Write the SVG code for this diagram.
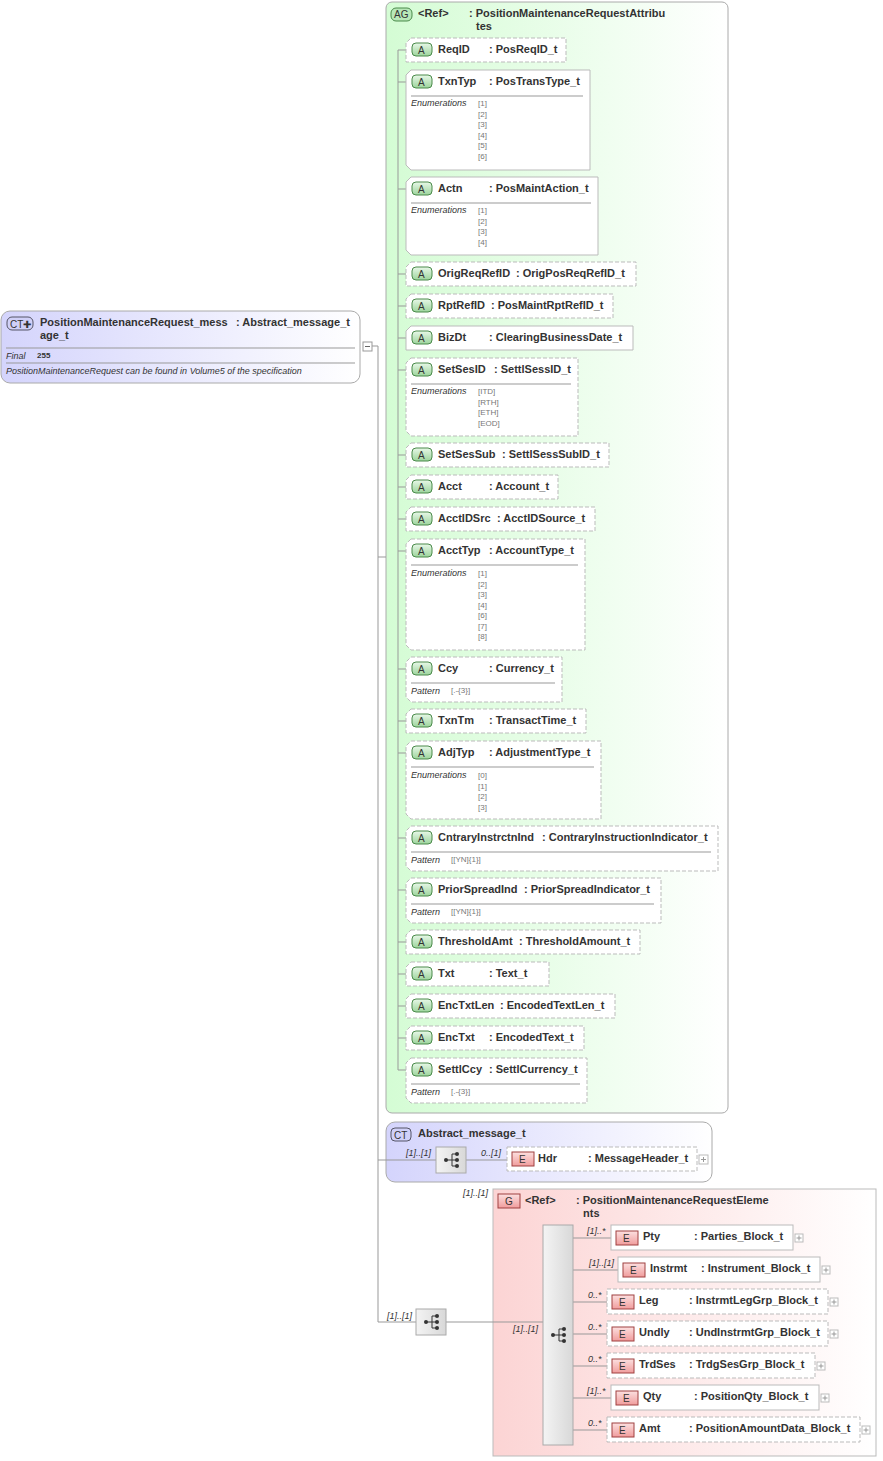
<svg xmlns="http://www.w3.org/2000/svg" width="883" height="1461" viewBox="0 0 883 1461">
<defs>
<linearGradient id="gg" x1="0" x2="1"><stop offset="0" stop-color="#d4fcd4"/><stop offset="1" stop-color="#ffffff"/></linearGradient>
<linearGradient id="pg" x1="0" x2="1"><stop offset="0" stop-color="#fcd4d4"/><stop offset="1" stop-color="#ffffff"/></linearGradient>
<linearGradient id="bg" x1="0" x2="1"><stop offset="0" stop-color="#d4d4fc"/><stop offset="1" stop-color="#ffffff"/></linearGradient>
<linearGradient id="sq" x1="0" x2="1"><stop offset="0" stop-color="#f4f4f4"/><stop offset="1" stop-color="#d8d8d8"/></linearGradient>
<linearGradient id="ab" x1="0" x2="0" y1="0" y2="1"><stop offset="0" stop-color="#e8f8e8"/><stop offset="1" stop-color="#9cd49c"/></linearGradient>
<linearGradient id="eb" x1="0" x2="0" y1="0" y2="1"><stop offset="0" stop-color="#fce0e0"/><stop offset="1" stop-color="#f09c9c"/></linearGradient>
<g id="seqi"><line x1="-6" y1="0" x2="0" y2="0" stroke="#333"/><line x1="0" y1="-6" x2="0" y2="6" stroke="#333"/><line x1="0" y1="-6" x2="5" y2="-6" stroke="#333"/><line x1="0" y1="0" x2="5" y2="0" stroke="#333"/><line x1="0" y1="6" x2="5" y2="6" stroke="#333"/><circle cx="-6" cy="0" r="2" fill="#333"/><circle cx="5" cy="-6" r="2" fill="#333"/><circle cx="5" cy="0" r="2" fill="#333"/><circle cx="5" cy="6" r="2" fill="#333"/></g>
</defs>
<style>
text{font-family:"Liberation Sans",Arial,sans-serif;fill:#333}
.b{font-size:11px;font-weight:bold}
.s{font-size:9px;font-style:italic}
.e{font-size:8px;fill:#777}
.n{fill:#fff;stroke:#bbb}
.d{fill:#fff;stroke:#bbb;stroke-dasharray:4,2}
.c{fill:none;stroke:#999}
.ab{fill:url(#ab);stroke:#4a8a4a}
.eb{fill:url(#eb);stroke:#a04040}
.sep{stroke:#999}
</style>
<g id="ct-main">
<rect x="1" y="311" width="359" height="72" rx="9" fill="url(#bg)" stroke="#aaa"/>
<rect x="7" y="317" width="26" height="13" rx="5" fill="#d0d0f8" stroke="#556"/>
<text x="10" y="328" font-size="10">CT✚</text>
<text x="40" y="326" class="b">PositionMaintenanceRequest_mess</text><text x="236" y="326" class="b">: Abstract_message_t</text>
<text x="40" y="339" class="b">age_t</text>
<line x1="6" y1="348" x2="355" y2="348" class="sep"/>
<text x="6" y="359" class="s">Final</text><text x="37" y="358" font-size="8" font-weight="bold">255</text>
<line x1="6" y1="363" x2="355" y2="363" class="sep"/>
<text x="6" y="374" class="s">PositionMaintenanceRequest can be found in Volume5 of the specification</text>
<rect x="363" y="342" width="9" height="9" fill="#fff" stroke="#999"/><line x1="365" y1="346.5" x2="370" y2="346.5" stroke="#666"/>
</g>
<g id="ag">
<rect x="386" y="2" width="342" height="1111" rx="6" fill="url(#gg)" stroke="#aaa"/>
<rect x="391" y="8" width="21" height="13" rx="5" fill="#b8e8b8" stroke="#4a8a4a"/>
<text x="394" y="18" font-size="10">AG</text>
<text x="418" y="17" class="b">&lt;Ref&gt;</text><text x="469" y="17" class="b">: PositionMaintenanceRequestAttribu</text>
<text x="476" y="30" class="b">tes</text>
</g>
<g id="ct-abstract">
<rect x="386" y="1122" width="326" height="60" rx="9" fill="url(#bg)" stroke="#aaa"/>
<rect x="391" y="1128" width="20" height="13" rx="4" fill="#d0d0f8" stroke="#556"/>
<text x="394" y="1139" font-size="10">CT</text>
<text x="418" y="1137" class="b">Abstract_message_t</text>
<text x="406" y="1156" class="s">[1]..[1]</text>
<text x="481" y="1156" class="s">0..[1]</text>
</g>
<g id="g-elements">
<text x="463" y="1196" class="s">[1]..[1]</text>
<rect x="493" y="1189" width="383" height="267" fill="url(#pg)" stroke="#bbb"/>
<rect x="498" y="1194" width="22" height="14" class="eb"/><text x="505" y="1205" font-size="10">G</text>
<text x="525" y="1204" class="b">&lt;Ref&gt;</text><text x="576" y="1204" class="b">: PositionMaintenanceRequestEleme</text>
<text x="583" y="1217" class="b">nts</text>
<text x="513" y="1332" class="s">[1]..[1]</text>
</g>
<g id="connectors" class="c">
<path d="M372,346 H378 V1322 M378,557 H386 M378,1160 H386 M378,1322 H416 M446,1322 H543 M386,1160 H436 M466,1160 H507"/>
<path d="M398,50 V1070"/>
<path d="M398,50 H406 M398,82 H406 M398,189 H406 M398,274 H406 M398,306 H406 M398,338 H406 M398,370 H406 M398,455 H406 M398,487 H406 M398,519 H406 M398,551 H406 M398,669 H406 M398,721 H406 M398,753 H406 M398,838 H406 M398,890 H406 M398,942 H406 M398,974 H406 M398,1006 H406 M398,1038 H406 M398,1070 H406"/>
<path d="M573,1238 H611 M573,1270 H618 M573,1302 H607 M573,1334 H607 M573,1366 H607 M573,1398 H611 M573,1430 H607"/>
</g>
<g id="attrs">
<g id="a-ReqID"><path d="M411,38 H566 V62 H406 V43 Z" class="d"/><rect x="412" y="43" width="20" height="13" rx="4" class="ab"/><text x="418" y="54" font-size="10">A</text><text x="438" y="53" class="b">ReqID</text><text x="489" y="53" class="b">: PosReqID_t</text></g>
<g id="a-TxnTyp"><path d="M411,70 H590 V170 H411 L406,165 V75 Z" class="n"/><rect x="412" y="75" width="20" height="13" rx="4" class="ab"/><text x="418" y="86" font-size="10">A</text><text x="438" y="85" class="b">TxnTyp</text><text x="489" y="85" class="b">: PosTransType_t</text><line x1="411" y1="96" x2="583" y2="96" class="sep"/><text x="411" y="106" class="s">Enumerations</text><text x="478" y="106" class="e">[1]</text><text x="478" y="116.5" class="e">[2]</text><text x="478" y="127" class="e">[3]</text><text x="478" y="137.5" class="e">[4]</text><text x="478" y="148" class="e">[5]</text><text x="478" y="158.5" class="e">[6]</text></g>
<g id="a-Actn"><path d="M411,177 H598 V255 H411 L406,250 V182 Z" class="n"/><rect x="412" y="182" width="20" height="13" rx="4" class="ab"/><text x="418" y="193" font-size="10">A</text><text x="438" y="192" class="b">Actn</text><text x="489" y="192" class="b">: PosMaintAction_t</text><line x1="411" y1="203" x2="591" y2="203" class="sep"/><text x="411" y="213" class="s">Enumerations</text><text x="478" y="213" class="e">[1]</text><text x="478" y="223.5" class="e">[2]</text><text x="478" y="234" class="e">[3]</text><text x="478" y="244.5" class="e">[4]</text></g>
<g id="a-OrigReqRefID"><path d="M411,262 H636 V286 H406 V267 Z" class="d"/><rect x="412" y="267" width="20" height="13" rx="4" class="ab"/><text x="418" y="278" font-size="10">A</text><text x="438" y="277" class="b">OrigReqRefID</text><text x="516" y="277" class="b">: OrigPosReqRefID_t</text></g>
<g id="a-RptRefID"><path d="M411,294 H613 V318 H406 V299 Z" class="d"/><rect x="412" y="299" width="20" height="13" rx="4" class="ab"/><text x="418" y="310" font-size="10">A</text><text x="438" y="309" class="b">RptRefID</text><text x="491" y="309" class="b">: PosMaintRptRefID_t</text></g>
<g id="a-BizDt"><path d="M411,326 H633 V350 H406 V331 Z" class="n"/><rect x="412" y="331" width="20" height="13" rx="4" class="ab"/><text x="418" y="342" font-size="10">A</text><text x="438" y="341" class="b">BizDt</text><text x="489" y="341" class="b">: ClearingBusinessDate_t</text></g>
<g id="a-SetSesID"><path d="M411,358 H578 V436 H411 L406,431 V363 Z" class="d"/><rect x="412" y="363" width="20" height="13" rx="4" class="ab"/><text x="418" y="374" font-size="10">A</text><text x="438" y="373" class="b">SetSesID</text><text x="494" y="373" class="b">: SettlSessID_t</text><line x1="411" y1="384" x2="571" y2="384" class="sep"/><text x="411" y="394" class="s">Enumerations</text><text x="478" y="394" class="e">[ITD]</text><text x="478" y="404.5" class="e">[RTH]</text><text x="478" y="415" class="e">[ETH]</text><text x="478" y="425.5" class="e">[EOD]</text></g>
<g id="a-SetSesSub"><path d="M411,443 H609 V467 H406 V448 Z" class="d"/><rect x="412" y="448" width="20" height="13" rx="4" class="ab"/><text x="418" y="459" font-size="10">A</text><text x="438" y="458" class="b">SetSesSub</text><text x="502" y="458" class="b">: SettlSessSubID_t</text></g>
<g id="a-Acct"><path d="M411,475 H558 V499 H406 V480 Z" class="d"/><rect x="412" y="480" width="20" height="13" rx="4" class="ab"/><text x="418" y="491" font-size="10">A</text><text x="438" y="490" class="b">Acct</text><text x="489" y="490" class="b">: Account_t</text></g>
<g id="a-AcctIDSrc"><path d="M411,507 H595 V531 H406 V512 Z" class="d"/><rect x="412" y="512" width="20" height="13" rx="4" class="ab"/><text x="418" y="523" font-size="10">A</text><text x="438" y="522" class="b">AcctIDSrc</text><text x="497" y="522" class="b">: AcctIDSource_t</text></g>
<g id="a-AcctTyp"><path d="M411,539 H585 V650 H411 L406,645 V544 Z" class="d"/><rect x="412" y="544" width="20" height="13" rx="4" class="ab"/><text x="418" y="555" font-size="10">A</text><text x="438" y="554" class="b">AcctTyp</text><text x="489" y="554" class="b">: AccountType_t</text><line x1="411" y1="565" x2="578" y2="565" class="sep"/><text x="411" y="576" class="s">Enumerations</text><text x="478" y="576" class="e">[1]</text><text x="478" y="586.5" class="e">[2]</text><text x="478" y="597" class="e">[3]</text><text x="478" y="607.5" class="e">[4]</text><text x="478" y="618" class="e">[6]</text><text x="478" y="628.5" class="e">[7]</text><text x="478" y="639" class="e">[8]</text></g>
<g id="a-Ccy"><path d="M411,657 H562 V702 H411 L406,697 V662 Z" class="d"/><rect x="412" y="662" width="20" height="13" rx="4" class="ab"/><text x="418" y="673" font-size="10">A</text><text x="438" y="672" class="b">Ccy</text><text x="489" y="672" class="b">: Currency_t</text><line x1="411" y1="683" x2="555" y2="683" class="sep"/><text x="411" y="694" class="s">Pattern</text><text x="451" y="693" class="e">[.-{3}]</text></g>
<g id="a-TxnTm"><path d="M411,709 H586 V733 H406 V714 Z" class="d"/><rect x="412" y="714" width="20" height="13" rx="4" class="ab"/><text x="418" y="725" font-size="10">A</text><text x="438" y="724" class="b">TxnTm</text><text x="489" y="724" class="b">: TransactTime_t</text></g>
<g id="a-AdjTyp"><path d="M411,741 H601 V819 H411 L406,814 V746 Z" class="d"/><rect x="412" y="746" width="20" height="13" rx="4" class="ab"/><text x="418" y="757" font-size="10">A</text><text x="438" y="756" class="b">AdjTyp</text><text x="489" y="756" class="b">: AdjustmentType_t</text><line x1="411" y1="767" x2="594" y2="767" class="sep"/><text x="411" y="778" class="s">Enumerations</text><text x="478" y="778" class="e">[0]</text><text x="478" y="788.5" class="e">[1]</text><text x="478" y="799" class="e">[2]</text><text x="478" y="809.5" class="e">[3]</text></g>
<g id="a-CntraryInstrctnInd"><path d="M411,826 H718 V871 H411 L406,866 V831 Z" class="d"/><rect x="412" y="831" width="20" height="13" rx="4" class="ab"/><text x="418" y="842" font-size="10">A</text><text x="438" y="841" class="b">CntraryInstrctnInd</text><text x="542" y="841" class="b">: ContraryInstructionIndicator_t</text><line x1="411" y1="852" x2="711" y2="852" class="sep"/><text x="411" y="863" class="s">Pattern</text><text x="451" y="862" class="e">[[YN]{1}]</text></g>
<g id="a-PriorSpreadInd"><path d="M411,878 H661 V923 H411 L406,918 V883 Z" class="d"/><rect x="412" y="883" width="20" height="13" rx="4" class="ab"/><text x="418" y="894" font-size="10">A</text><text x="438" y="893" class="b">PriorSpreadInd</text><text x="524" y="893" class="b">: PriorSpreadIndicator_t</text><line x1="411" y1="904" x2="654" y2="904" class="sep"/><text x="411" y="915" class="s">Pattern</text><text x="451" y="914" class="e">[[YN]{1}]</text></g>
<g id="a-ThresholdAmt"><path d="M411,930 H640 V954 H406 V935 Z" class="d"/><rect x="412" y="935" width="20" height="13" rx="4" class="ab"/><text x="418" y="946" font-size="10">A</text><text x="438" y="945" class="b">ThresholdAmt</text><text x="519" y="945" class="b">: ThresholdAmount_t</text></g>
<g id="a-Txt"><path d="M411,962 H549 V986 H406 V967 Z" class="d"/><rect x="412" y="967" width="20" height="13" rx="4" class="ab"/><text x="418" y="978" font-size="10">A</text><text x="438" y="977" class="b">Txt</text><text x="489" y="977" class="b">: Text_t</text></g>
<g id="a-EncTxtLen"><path d="M411,994 H615 V1018 H406 V999 Z" class="d"/><rect x="412" y="999" width="20" height="13" rx="4" class="ab"/><text x="418" y="1010" font-size="10">A</text><text x="438" y="1009" class="b">EncTxtLen</text><text x="500" y="1009" class="b">: EncodedTextLen_t</text></g>
<g id="a-EncTxt"><path d="M411,1026 H584 V1050 H406 V1031 Z" class="d"/><rect x="412" y="1031" width="20" height="13" rx="4" class="ab"/><text x="418" y="1042" font-size="10">A</text><text x="438" y="1041" class="b">EncTxt</text><text x="489" y="1041" class="b">: EncodedText_t</text></g>
<g id="a-SettlCcy"><path d="M411,1058 H587 V1103 H411 L406,1098 V1063 Z" class="d"/><rect x="412" y="1063" width="20" height="13" rx="4" class="ab"/><text x="418" y="1074" font-size="10">A</text><text x="438" y="1073" class="b">SettlCcy</text><text x="489" y="1073" class="b">: SettlCurrency_t</text><line x1="411" y1="1084" x2="580" y2="1084" class="sep"/><text x="411" y="1095" class="s">Pattern</text><text x="451" y="1094" class="e">[.-{3}]</text></g>
</g>
<g id="seq-abstract">
<rect x="436" y="1147" width="30" height="26" fill="url(#sq)" stroke="#aaa"/>
<use href="#seqi" x="452" y="1160"/>
</g>
<g id="e-Hdr">
<rect x="507" y="1147" width="190" height="24" class="d" fill="#fff0f0"/>
<rect x="512" y="1152" width="22" height="14" class="eb"/><text x="519" y="1163" font-size="10">E</text>
<text x="538" y="1162" class="b">Hdr</text><text x="588" y="1162" class="b">: MessageHeader_t</text>
<rect x="699" y="1155" width="9" height="9" fill="#fff" stroke="#bbb"/><path d="M701,1159.5 H706 M703.5,1157 V1162" stroke="#999"/>
</g>
<g id="seq-main">
<text x="387" y="1319" class="s">[1]..[1]</text>
<rect x="416" y="1309" width="30" height="26" fill="url(#sq)" stroke="#aaa"/>
<use href="#seqi" x="432" y="1322"/>
</g>
<g id="seq-elements">
<rect x="543" y="1225" width="30" height="220" fill="url(#sq)" stroke="#aaa"/>
<use href="#seqi" x="559" y="1335"/>
</g>
<g id="els">
<g id="e-Pty"><text x="587" y="1234" class="s">[1]..*</text><rect x="611" y="1225" width="182" height="25" class="n"/><rect x="616" y="1231" width="22" height="14" class="eb"/><text x="623" y="1242" font-size="10">E</text><text x="643" y="1240" class="b">Pty</text><text x="694" y="1240" class="b">: Parties_Block_t</text><rect x="795" y="1234" width="8" height="8" fill="#fff" stroke="#bbb"/><path d="M796.5,1238 H801.5 M799,1235.5 V1240.5" stroke="#999"/></g>
<g id="e-Instrmt"><text x="589" y="1266" class="s">[1]..[1]</text><rect x="618" y="1257" width="202" height="25" class="n"/><rect x="623" y="1263" width="22" height="14" class="eb"/><text x="630" y="1274" font-size="10">E</text><text x="650" y="1272" class="b">Instrmt</text><text x="701" y="1272" class="b">: Instrument_Block_t</text><rect x="822" y="1266" width="8" height="8" fill="#fff" stroke="#bbb"/><path d="M823.5,1270 H828.5 M826,1267.5 V1272.5" stroke="#999"/></g>
<g id="e-Leg"><text x="588" y="1298" class="s">0..*</text><rect x="607" y="1289" width="221" height="25" class="d"/><rect x="612" y="1295" width="22" height="14" class="eb"/><text x="619" y="1306" font-size="10">E</text><text x="639" y="1304" class="b">Leg</text><text x="689" y="1304" class="b">: InstrmtLegGrp_Block_t</text><rect x="830" y="1298" width="8" height="8" fill="#fff" stroke="#bbb"/><path d="M831.5,1302 H836.5 M834,1299.5 V1304.5" stroke="#999"/></g>
<g id="e-Undly"><text x="588" y="1330" class="s">0..*</text><rect x="607" y="1321" width="221" height="25" class="d"/><rect x="612" y="1327" width="22" height="14" class="eb"/><text x="619" y="1338" font-size="10">E</text><text x="639" y="1336" class="b">Undly</text><text x="689" y="1336" class="b">: UndInstrmtGrp_Block_t</text><rect x="830" y="1330" width="8" height="8" fill="#fff" stroke="#bbb"/><path d="M831.5,1334 H836.5 M834,1331.5 V1336.5" stroke="#999"/></g>
<g id="e-TrdSes"><text x="588" y="1362" class="s">0..*</text><rect x="607" y="1353" width="208" height="25" class="d"/><rect x="612" y="1359" width="22" height="14" class="eb"/><text x="619" y="1370" font-size="10">E</text><text x="639" y="1368" class="b">TrdSes</text><text x="689" y="1368" class="b">: TrdgSesGrp_Block_t</text><rect x="817" y="1362" width="8" height="8" fill="#fff" stroke="#bbb"/><path d="M818.5,1366 H823.5 M821,1363.5 V1368.5" stroke="#999"/></g>
<g id="e-Qty"><text x="587" y="1394" class="s">[1]..*</text><rect x="611" y="1385" width="208" height="25" class="n"/><rect x="616" y="1391" width="22" height="14" class="eb"/><text x="623" y="1402" font-size="10">E</text><text x="643" y="1400" class="b">Qty</text><text x="694" y="1400" class="b">: PositionQty_Block_t</text><rect x="821" y="1394" width="8" height="8" fill="#fff" stroke="#bbb"/><path d="M822.5,1398 H827.5 M825,1395.5 V1400.5" stroke="#999"/></g>
<g id="e-Amt"><text x="588" y="1426" class="s">0..*</text><rect x="607" y="1417" width="253" height="25" class="d"/><rect x="612" y="1423" width="22" height="14" class="eb"/><text x="619" y="1434" font-size="10">E</text><text x="639" y="1432" class="b">Amt</text><text x="689" y="1432" class="b">: PositionAmountData_Block_t</text><rect x="862" y="1426" width="8" height="8" fill="#fff" stroke="#bbb"/><path d="M863.5,1430 H868.5 M866,1427.5 V1432.5" stroke="#999"/></g>
</g>
</svg>
